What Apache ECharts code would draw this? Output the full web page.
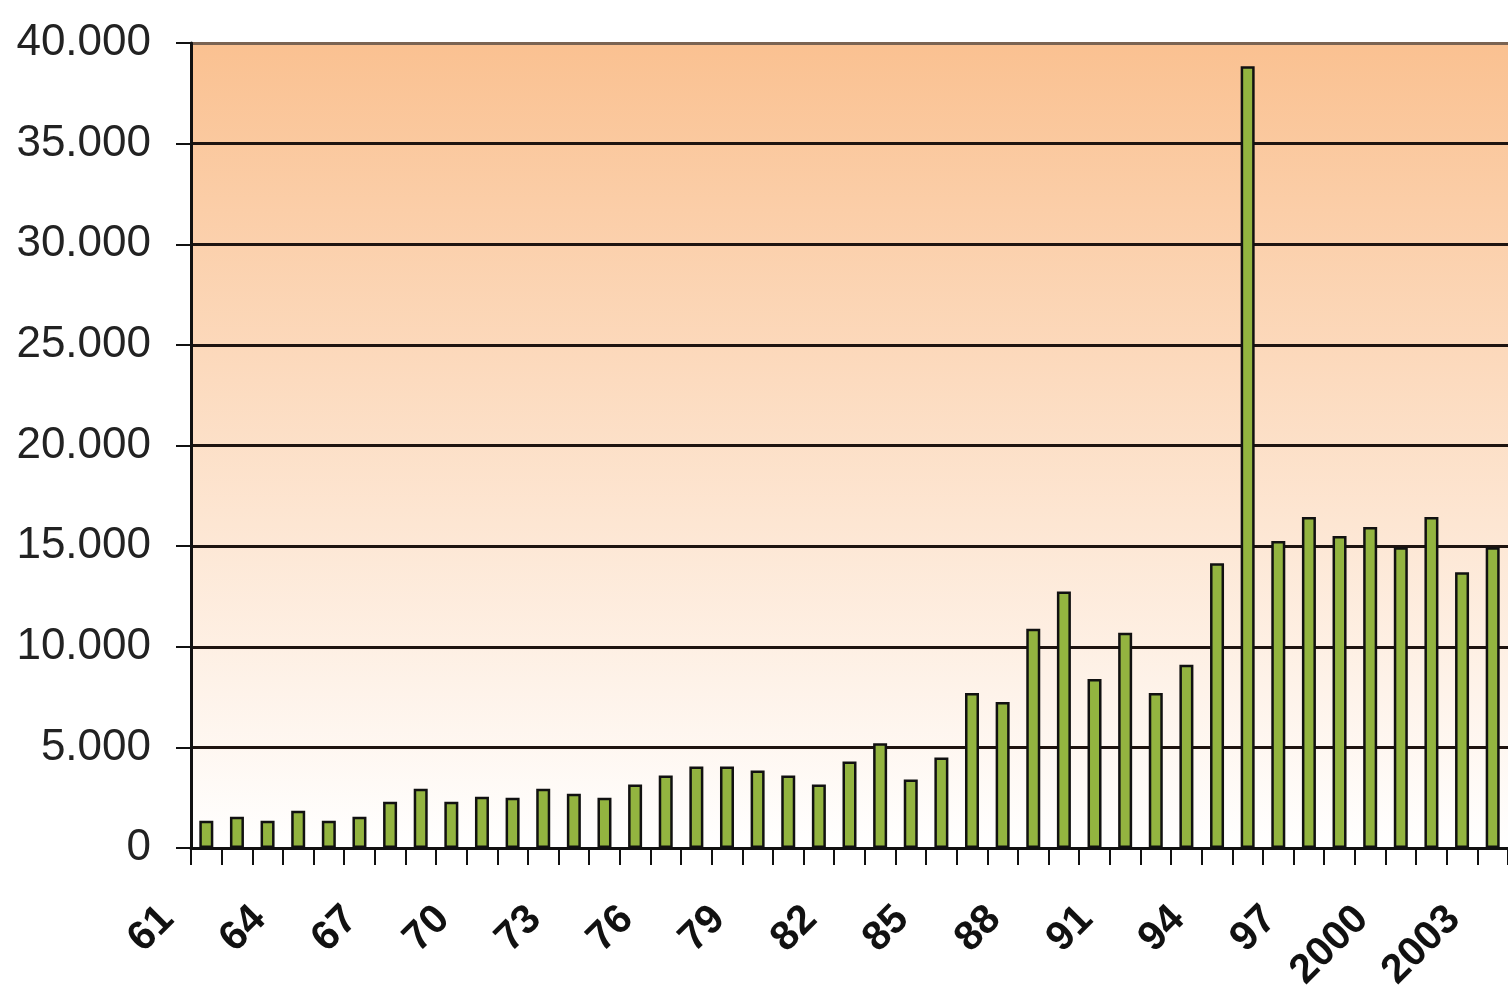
<!DOCTYPE html>
<html>
<head>
<meta charset="utf-8">
<script src="https://cdn.jsdelivr.net/npm/echarts@6/dist/echarts.min.js"></script>
<style>
html,body{margin:0;padding:0;background:#fff;}
#c{width:1508px;height:1000px;}
</style>
</head>
<body>
<div id="c"></div>
<script>
var categories = ['61','62','63','64','65','66','67','68','69','70','71','72','73','74','75','76','77','78','79','80','81','82','83','84','85','86','87','88','89','90','91','92','93','94','95','96','97','98','99','2000','2001','2002','2003'];
var values = [1350,1550,1350,1850,1350,1550,2300,2950,2300,2550,2500,2950,2700,2500,3150,3600,4050,4050,3850,3600,3150,4300,5200,3400,4500,7700,7250,10900,12750,8400,10700,7700,9100,14150,38850,15250,16450,15500,15950,14950,16450,13700,14950];
var yTickLabels = ['0','5.000','10.000','15.000','20.000','25.000','30.000','35.000','40.000'];

var chart = echarts.init(document.getElementById('c'), null, {renderer:'canvas'});
chart.setOption({
  animation:false,
  backgroundColor:'#ffffff',
  grid:{
    left:191, top:43, width:1318, height:805,
    show:true, borderWidth:0,
    backgroundColor:new echarts.graphic.LinearGradient(0,0,0,1,[
      {offset:0,color:'#FAC191'},
      {offset:1,color:'#FFFFFF'}
    ])
  },
  xAxis:{
    type:'category',
    data:categories,
    boundaryGap:true,
    axisLine:{show:true,lineStyle:{color:'#111',width:3}},
    axisTick:{show:true,interval:0,length:17,lineStyle:{color:'#111',width:2}},
    axisLabel:{
      interval:2, rotate:45, margin:26,
      padding:[0,55,0,0],
      fontFamily:'Liberation Sans, Arial, sans-serif',
      fontSize:41, fontWeight:'bold', color:'#111'
    },
    splitLine:{show:false}
  },
  yAxis:{
    type:'value',
    min:0, max:40000, interval:5000,
    axisLine:{show:true,lineStyle:{color:'#111',width:3}},
    axisTick:{show:true,length:15,lineStyle:{color:'#111',width:2}},
    axisLabel:{
      margin:40,
      fontFamily:'Liberation Sans, Arial, sans-serif',
      fontSize:44, color:'#222',
      padding:[0,0,7,0],
      formatter:function(v){ return yTickLabels[Math.round(v/5000)]; }
    },
    splitLine:{show:true,lineStyle:{color:['#1e1410','#1e1410','#1e1410','#1e1410','#1e1410','#1e1410','#1e1410','#1e1410','#7a6352'],width:3}}
  },
  series:[{
    type:'bar',
    data:values,
    barWidth:14,
    itemStyle:{color:'#93B440',borderColor:'#111',borderWidth:2.5},
    emphasis:{disabled:true}
  }]
});
</script>
</body>
</html>
